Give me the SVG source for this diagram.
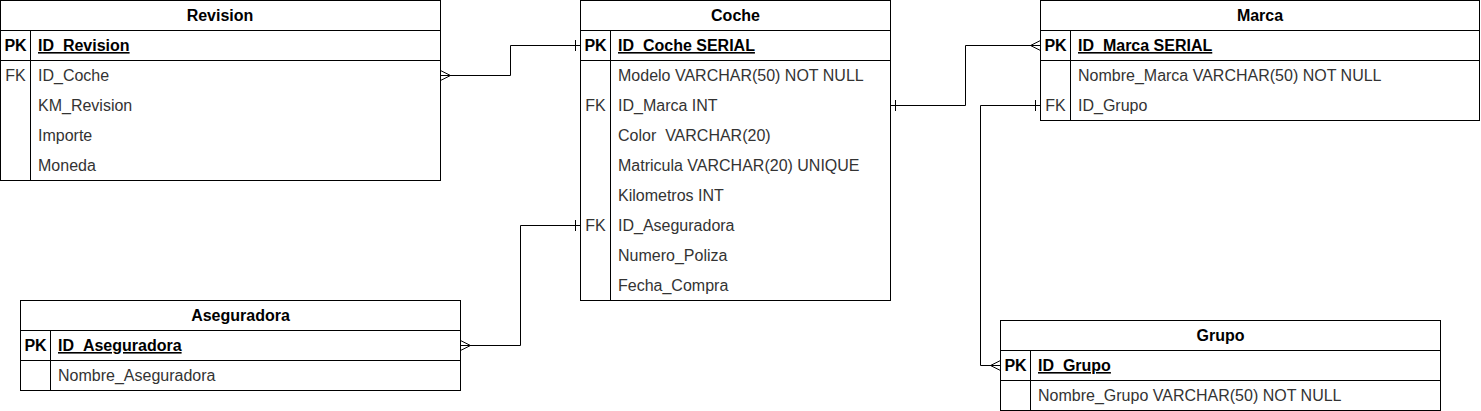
<svg xmlns="http://www.w3.org/2000/svg" width="1481" height="411" viewBox="0 0 1481 411">
<style>
.box{fill:#ffffff;stroke:#000000;stroke-width:1}
.ln{stroke:#000000;stroke-width:1;fill:none}
.hd{font-family:"Liberation Sans",Arial,sans-serif;font-size:16px;font-weight:bold;fill:#000000;text-anchor:middle}
.key{font-family:"Liberation Sans",Arial,sans-serif;font-size:16px;font-weight:bold;fill:#000000;text-anchor:middle}
.pk{font-family:"Liberation Sans",Arial,sans-serif;font-size:16px;font-weight:bold;fill:#000000;text-decoration:underline}
.fk{font-family:"Liberation Sans",Arial,sans-serif;font-size:16px;fill:#333333;text-anchor:middle}
.fd{font-family:"Liberation Sans",Arial,sans-serif;font-size:16px;fill:#333333}
</style>
<g id="connectors" class="ln">
<path d="M440.5,75.5 H510.5 V45.5 H580.5"/>
<path d="M440.5,70.5 L450.5,75.5 L440.5,80.5"/>
<path d="M575.5,40 V51"/>
<path d="M890.5,105.5 H965.5 V45.5 H1040.5"/>
<path d="M895.5,100 V111"/>
<path d="M1040.5,40.5 L1030.5,45.5 L1040.5,50.5"/>
<path d="M580.5,225.5 H520.5 V345.5 H460.5"/>
<path d="M575.5,220 V231"/>
<path d="M460.5,340.5 L470.5,345.5 L460.5,350.5"/>
<path d="M1040.5,105.5 H980.5 V365.5 H1000.5"/>
<path d="M1035.5,100 V111"/>
<path d="M1000.5,360.5 L990.5,365.5 L1000.5,370.5"/>
</g>
<g id="revision">
<rect class="box" x="0.5" y="0.5" width="440" height="180"/>
<path class="ln" d="M0.5,30.5 H440.5 M0.5,60.5 H440.5 M30.5,30.5 V180.5"/>
<text class="hd" x="220" y="21">Revision</text>
<text class="key" x="15.5" y="51">PK</text>
<text class="pk" x="38" y="51">ID_Revision</text>
<text class="fk" x="15.5" y="81">FK</text>
<text class="fd" x="38" y="81">ID_Coche</text>
<text class="fd" x="38" y="111">KM_Revision</text>
<text class="fd" x="38" y="141">Importe</text>
<text class="fd" x="38" y="171">Moneda</text>
</g>
<g id="coche">
<rect class="box" x="580.5" y="0.5" width="310" height="300"/>
<path class="ln" d="M580.5,30.5 H890.5 M580.5,60.5 H890.5 M610.5,30.5 V300.5"/>
<text class="hd" x="735.5" y="21">Coche</text>
<text class="key" x="595.5" y="51">PK</text>
<text class="pk" x="618" y="51">ID_Coche SERIAL</text>
<text class="fd" x="618" y="81">Modelo VARCHAR(50) NOT NULL</text>
<text class="fk" x="595.5" y="111">FK</text>
<text class="fd" x="618" y="111">ID_Marca INT</text>
<text class="fd" x="618" y="141" xml:space="preserve">Color  VARCHAR(20)</text>
<text class="fd" x="618" y="171">Matricula VARCHAR(20) UNIQUE</text>
<text class="fd" x="618" y="201">Kilometros INT</text>
<text class="fk" x="595.5" y="231">FK</text>
<text class="fd" x="618" y="231">ID_Aseguradora</text>
<text class="fd" x="618" y="261">Numero_Poliza</text>
<text class="fd" x="618" y="291">Fecha_Compra</text>
</g>
<g id="marca">
<rect class="box" x="1040.5" y="0.5" width="439" height="120"/>
<path class="ln" d="M1040.5,30.5 H1479.5 M1040.5,60.5 H1479.5 M1070.5,30.5 V120.5"/>
<text class="hd" x="1260" y="21">Marca</text>
<text class="key" x="1055.5" y="51">PK</text>
<text class="pk" x="1078" y="51">ID_Marca SERIAL</text>
<text class="fd" x="1078" y="81">Nombre_Marca VARCHAR(50) NOT NULL</text>
<text class="fk" x="1055.5" y="111">FK</text>
<text class="fd" x="1078" y="111">ID_Grupo</text>
</g>
<g id="aseguradora">
<rect class="box" x="20.5" y="300.5" width="440" height="90"/>
<path class="ln" d="M20.5,330.5 H460.5 M20.5,360.5 H460.5 M50.5,330.5 V390.5"/>
<text class="hd" x="240.5" y="321">Aseguradora</text>
<text class="key" x="35.5" y="351">PK</text>
<text class="pk" x="58" y="351">ID_Aseguradora</text>
<text class="fd" x="58" y="381">Nombre_Aseguradora</text>
</g>
<g id="grupo">
<rect class="box" x="1000.5" y="320.5" width="440" height="90"/>
<path class="ln" d="M1000.5,350.5 H1440.5 M1000.5,380.5 H1440.5 M1030.5,350.5 V410.5"/>
<text class="hd" x="1220.5" y="341">Grupo</text>
<text class="key" x="1015.5" y="371">PK</text>
<text class="pk" x="1038" y="371">ID_Grupo</text>
<text class="fd" x="1038" y="401">Nombre_Grupo VARCHAR(50) NOT NULL</text>
</g>
</svg>
